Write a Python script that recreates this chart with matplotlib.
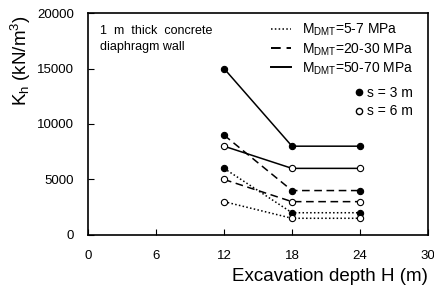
import matplotlib
matplotlib.use("Agg")
import matplotlib.pyplot as plt
from matplotlib.lines import Line2D

plt.rcParams['font.family'] = ['Liberation Sans', 'DejaVu Sans']
plt.rcParams['mathtext.fontset'] = 'custom'
plt.rcParams['mathtext.rm'] = 'Liberation Sans'
plt.rcParams['mathtext.it'] = 'Liberation Sans'

depth = [12, 18, 24]

# K_h values (kN/m3) for each M_DMT range, s = 3 m (filled) and s = 6 m (open)
low_s3 = [6000, 2000, 2000]
low_s6 = [3000, 1500, 1500]
mid_s3 = [9000, 4000, 4000]
mid_s6 = [5000, 3000, 3000]
high_s3 = [15000, 8000, 8000]
high_s6 = [8000, 6000, 6000]

fig = plt.figure(figsize=(4.34, 2.97), dpi=100)
ax = fig.add_axes([0.203, 0.209, 0.783, 0.747])

dot = (0, (1, 1.5))
dash = (0, (5, 3))
series = [
    (low_s3, dot, 'k'), (low_s6, dot, 'w'),
    (mid_s3, dash, 'k'), (mid_s6, dash, 'w'),
    (high_s3, '-', 'k'), (high_s6, '-', 'w'),
]
for vals, ls, fc in series:
    ax.plot(depth, vals, color='k', linestyle=ls, lw=1.1,
            marker='o', markersize=4.5, markerfacecolor=fc,
            markeredgecolor='k', markeredgewidth=0.8)

ax.set_xlim(0, 30)
ax.set_ylim(0, 20000)
ax.set_xticks([0, 6, 12, 18, 24, 30])
ax.set_yticks([0, 5000, 10000, 15000, 20000])
ax.tick_params(direction='in', labelsize=9.5, length=4, width=0.8)
ax.tick_params(axis='x', pad=11)
ax.tick_params(axis='y', pad=10)
for sp in ax.spines.values():
    sp.set_linewidth(1.2)

ax.set_xlabel('Excavation depth H (m)', fontsize=13.5, loc='right', labelpad=4)
ax.set_ylabel(r'K$_{\rm h}$ (kN/m$^{3}$)', fontsize=13.5)
ax.yaxis.set_label_coords(-0.162, 0.785)

ax.text(0.035, 0.945, '1  m  thick  concrete\ndiaphragm wall', transform=ax.transAxes,
        fontsize=9, va='top', ha='left', linespacing=1.45)

line_handles = [
    Line2D([], [], color='k', ls=dot, lw=1.1),
    Line2D([], [], color='k', ls=dash, lw=1.4),
    Line2D([], [], color='k', ls='-', lw=1.4),
]
line_labels = [r'M$_{\rm DMT}$=5-7 MPa', r'M$_{\rm DMT}$=20-30 MPa',
               r'M$_{\rm DMT}$=50-70 MPa']
leg1 = ax.legend(line_handles, line_labels, loc='upper right',
                 bbox_to_anchor=(0.956, 0.96), frameon=False, fontsize=10,
                 handlelength=1.4, handletextpad=0.8, labelspacing=0.2,
                 borderaxespad=0, borderpad=0)
ax.add_artist(leg1)

marker_handles = [
    Line2D([], [], ls='none', marker='o', markersize=4.5, mfc='k', mec='k'),
    Line2D([], [], ls='none', marker='o', markersize=4.5, mfc='w', mec='k'),
]
ax.legend(marker_handles, ['s = 3 m', 's = 6 m'], loc='upper right',
          bbox_to_anchor=(0.956, 0.67), frameon=False, fontsize=10,
          handlelength=0.5, handletextpad=0.3, labelspacing=0.3,
          borderaxespad=0, borderpad=0)

fig.savefig('out.png', dpi=100)
